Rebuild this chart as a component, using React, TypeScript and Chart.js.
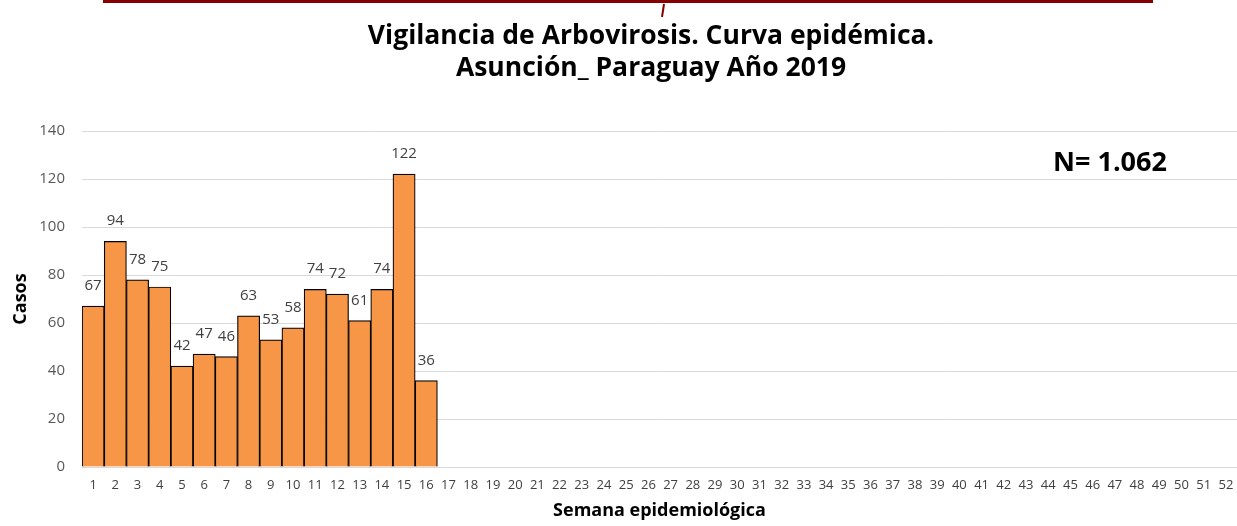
import React, { useEffect, useRef } from "react";
import { Chart, registerables } from "chart.js";

Chart.register(...registerables);

const weekLabels = [
  "1", "2", "3", "4", "5", "6", "7", "8", "9", "10", "11", "12", "13",
  "14", "15", "16", "17", "18", "19", "20", "21", "22", "23", "24", "25", "26",
  "27", "28", "29", "30", "31", "32", "33", "34", "35", "36", "37", "38", "39",
  "40", "41", "42", "43", "44", "45", "46", "47", "48", "49", "50", "51", "52",
];
const casesReported = [67, 94, 78, 75, 42, 47, 46, 63, 53, 58, 74, 72, 61, 74, 122, 36];
const yTickValues = [0, 20, 40, 60, 80, 100, 120, 140];
const titleLines = ["Vigilancia de Arbovirosis. Curva epidémica.", "Asunción_ Paraguay Año 2019"];
const totalLabel = "N= 1.062";
const yAxisTitle = "Casos";
const xAxisTitle = "Semana epidemiológica";

const FONT = "'Open Sans', 'DejaVu Sans', sans-serif";

export default function App() {
  const ref = useRef<HTMLCanvasElement>(null);

  useEffect(() => {
    const canvas = ref.current;
    if (!canvas) return;

    const decor = {
      id: "decor",
      beforeDraw(chart: any) {
        const ctx = chart.ctx;
        ctx.save();
        ctx.fillStyle = "#ffffff";
        ctx.fillRect(0, 0, chart.width, chart.height);
        ctx.restore();
      },
      afterDraw(chart: any) {
        const ctx = chart.ctx;
        ctx.save();
        // top red rule
        ctx.fillStyle = "#860000";
        ctx.fillRect(103, 0, 1050, 3);
        ctx.strokeStyle = "#860000";
        ctx.lineWidth = 2;
        ctx.beginPath();
        ctx.moveTo(664, 4);
        ctx.lineTo(662, 17);
        ctx.stroke();
        // title
        ctx.fillStyle = "#000000";
        ctx.textAlign = "center";
        ctx.textBaseline = "middle";
        ctx.font = `bold 26.5px ${FONT}`;
        ctx.fillText(titleLines[0], 651, 36);
        ctx.fillText(titleLines[1], 651, 68);
        // total annotation
        ctx.font = `bold 27px ${FONT}`;
        ctx.fillText(totalLabel, 1110, 163);
        ctx.restore();
      },
    };

    const barLabels = {
      id: "barLabels",
      afterDatasetsDraw(chart: any) {
        const ctx = chart.ctx;
        const meta = chart.getDatasetMeta(0);
        const data = chart.data.datasets[0].data;
        ctx.save();
        ctx.fillStyle = "#404040";
        ctx.font = `15px ${FONT}`;
        ctx.textAlign = "center";
        ctx.textBaseline = "alphabetic";
        meta.data.forEach((bar: any, i: number) => {
          const v = data[i];
          if (v == null) return;
          ctx.fillText(String(v), bar.x, bar.y - 16);
        });
        ctx.restore();
      },
    };

    const chart = new Chart(canvas, {
      type: "bar",
      data: {
        labels: weekLabels,
        datasets: [
          {
            data: weekLabels.map((_, i) => (casesReported[i] ?? null)),
            backgroundColor: "#F79646",
            borderColor: "#000000",
            borderWidth: 1.2,
            barPercentage: 1,
            categoryPercentage: 1,
          },
        ],
      },
      options: {
        animation: false,
        responsive: false,
        devicePixelRatio: 1,
        layout: { padding: { left: 6, right: -3, top: 131, bottom: 0 } },
        plugins: {
          legend: { display: false },
          title: { display: false },
          tooltip: { enabled: false },
        },
        scales: {
          x: {
            grid: { display: false, drawTicks: false },
            border: { display: true, color: "#D9D9D9", width: 1 },
            ticks: {
              color: "#404040",
              font: { family: FONT, size: 13 },
              padding: 10,
              maxRotation: 0,
              minRotation: 0,
              autoSkip: false,
            },
            title: {
              display: true,
              text: xAxisTitle,
              color: "#000000",
              font: { family: FONT, size: 18, weight: "bold" },
              padding: { top: 4, bottom: 4 },
            },
            afterFit(scale: any) {
              scale.height = 59;
              scale.paddingLeft = 0;
              scale.paddingRight = 0;
            },
          },
          y: {
            min: 0,
            max: 140,
            afterBuildTicks(scale: any) {
              scale.ticks = yTickValues.map((v) => ({ value: v }));
            },
            grid: { color: "#D9D9D9", drawTicks: false, lineWidth: 1 },
            border: { display: false },
            ticks: {
              color: "#595959",
              font: { family: FONT, size: 15 },
              padding: 17,
            },
            title: {
              display: true,
              text: yAxisTitle,
              color: "#000000",
              font: { family: FONT, size: 18, weight: "bold" },
              padding: { top: 4, bottom: 4 },
            },
            afterFit(scale: any) {
              scale.width = 76;
              scale.paddingTop = 0;
              scale.paddingBottom = 0;
            },
          },
        },
      },
      plugins: [decor, barLabels],
    } as any);

    return () => {
      chart.destroy();
    };
  }, []);

  return (
    <div style={{ position: "fixed", left: 0, top: 0, width: 1237, height: 526, background: "#fff" }}>
      <canvas ref={ref} width={1237} height={526} style={{ display: "block", width: 1237, height: 526 }} />
    </div>
  );
}
